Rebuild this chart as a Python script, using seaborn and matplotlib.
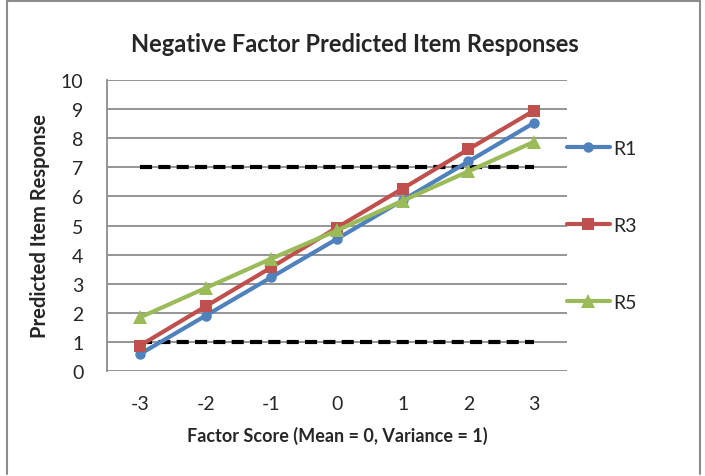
import pandas as pd
import matplotlib
matplotlib.use("Agg")
import matplotlib.pyplot as plt
from matplotlib.lines import Line2D
import seaborn as sns

# factor scores on the x axis
factor_scores = [-3, -2, -1, 0, 1, 2, 3]

# predicted item responses
r1 = [0.58, 1.90, 3.22, 4.54, 5.87, 7.20, 8.53]
r3 = [0.87, 2.22, 3.56, 4.93, 6.27, 7.62, 8.95]
r5 = [1.84, 2.85, 3.86, 4.83, 5.85, 6.86, 7.88]

# response scale cut-offs (dashed lines)
cutoffs = [1, 7]

series_names = ["R1", "R3", "R5"]
colors = {"R1": "#4F81BD", "R3": "#C0504D", "R5": "#9BBB59"}
markers = {"R1": "o", "R3": "s", "R5": "^"}
msizes = {"R1": 7.5, "R3": 8, "R5": 9.5}

sns.set_style("white")
plt.rcParams["font.family"] = ["Lato", "DejaVu Sans"]

df = pd.DataFrame({
    "score": factor_scores * 3,
    "response": r1 + r3 + r5,
    "item": ["R1"] * 7 + ["R3"] * 7 + ["R5"] * 7,
})

fig = plt.figure(figsize=(7.05, 4.77), dpi=100)
ax = fig.add_axes([107 / 705, 1 - 372 / 477, 460 / 705, 291 / 477])

# horizontal gridlines
for v in range(0, 11):
    ax.axhline(v, color="#8C8C8C", lw=1.3, zorder=0)

for y in cutoffs:
    ax.hlines(y, factor_scores[0], factor_scores[-1], colors="black",
              lw=3, linestyles=(0, (2.9, 1.5)), zorder=2)

sns.lineplot(data=df, x="score", y="response", hue="item", style="item",
             palette=colors, markers=markers, dashes=False, lw=3,
             markersize=8, markeredgewidth=0, ax=ax, legend=False, zorder=3)
# give each series its own marker size
for line, name in zip(ax.get_lines()[-3:], series_names):
    line.set_markersize(msizes[name])

ax.set_xlim(-3.5, 3.5)
ax.set_ylim(0, 10)
ax.set_xticks(factor_scores)
ax.set_xticklabels([str(s) for s in factor_scores])
ax.set_yticks(range(0, 11))
ax.tick_params(axis="both", length=0, labelsize=14)
ax.tick_params(axis="y", pad=17)
ax.tick_params(axis="x", pad=17)
for side in ["top", "right", "bottom"]:
    ax.spines[side].set_visible(False)
ax.spines["left"].set_color("#8C8C8C")
ax.spines["left"].set_linewidth(1.3)

ax.set_xlabel("Factor Score (Mean = 0, Variance = 1)", fontsize=13,
              fontweight="bold", labelpad=10)
ax.set_ylabel("Predicted Item Response", fontsize=14.5, fontweight="bold",
              labelpad=8)
fig.text(355 / 705, 1 - 45 / 477, "Negative Factor Predicted Item Responses",
         ha="center", va="center", fontsize=17, fontweight="bold")

handles = [Line2D([0], [0], color=colors[n], marker=markers[n], lw=3,
                  markersize=msizes[n], markeredgewidth=0) for n in series_names]
ax.legend(handles, series_names, loc="center left", bbox_to_anchor=(1.0, 0.5),
          frameon=False, fontsize=14, labelspacing=3.1, handlelength=2.2,
          handletextpad=0.2, borderpad=0, borderaxespad=0)

# chart border
for xs, ys in [([7, 7], [0, 475]), ([7, 700], [2, 2]), ([700, 700], [2, 475])]:
    fig.add_artist(Line2D([x / 705 for x in xs], [1 - y / 477 for y in ys],
                          color="#8C8C8C", lw=1.5))

fig.savefig("out.png", dpi=100)
